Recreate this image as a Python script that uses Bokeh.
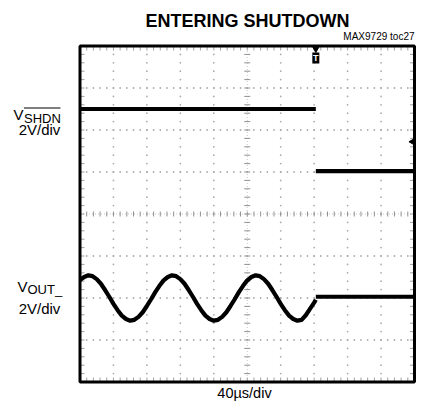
import numpy as np
from bokeh.plotting import figure
from bokeh.models import Range1d
from bokeh.core.properties import value
from bokeh.embed import file_html
from bokeh.resources import INLINE

# ---------------- data ----------------
US_PER_DIV = 40
V_PER_DIV = 2
N_XDIV = 10
N_YDIV = 8

# time of the shutdown edge (us)
t_shutdown_us = 282

# VOUT_ trace before shutdown (us, V)
t_vout_us = [0, 5, 10, 15, 20, 25, 30, 35, 40, 45, 50, 55, 60, 65, 70, 75, 80, 85, 90, 95,
             100, 105, 110, 115, 120, 125, 130, 135, 140, 145, 150, 155, 160, 165, 170, 175, 180, 185, 190, 195,
             200, 205, 210, 215, 220, 225, 230, 235, 240, 245, 250, 255, 260, 265, 270, 275, 280, 282]
vout_v = [0.86, 1.00, 1.08, 1.04, 0.90, 0.68, 0.38, 0.06, -0.28, -0.58, -0.84, -1.00, -1.08, -1.04, -0.90, -0.68, -0.38, -0.06, 0.28, 0.58,
          0.84, 1.00, 1.08, 1.04, 0.90, 0.68, 0.38, 0.06, -0.28, -0.58, -0.84, -1.00, -1.08, -1.04, -0.90, -0.68, -0.38, -0.06, 0.28, 0.58,
          0.84, 1.00, 1.08, 1.04, 0.90, 0.68, 0.38, 0.06, -0.28, -0.58, -0.84, -1.00, -1.08, -1.04, -0.82, -0.52, -0.22, -0.08]
# VOUT_ after shutdown
t_vout_off_us = [282, 400]
vout_off_v = [0.06, 0.06]

# SHDN trace (us, V)
t_shdn_high_us = [0, 282]
shdn_high_v = [3.0, 3.0]
t_shdn_low_us = [282, 400]
shdn_low_v = [0.04, 0.04]

# channel ground positions on screen (divisions from bottom)
shdn_offset_div = 5.0
vout_offset_div = 2.0
trig_level_div = 5.72

# ---------------- layout (page pixels) ----------------
W, H = 422, 413
FL, FR, FT, FB = 79.5, 414.0, 45.5, 381.5   # scope screen edges in page pixels
FW, FH = FR - FL, FB - FT
XMAX = US_PER_DIV * N_XDIV
TEXT_DY = -5.5


def px_x(page_x):
    return (page_x - FL) / FW * XMAX


def px_y(page_y):
    return (FB - page_y) / FH * N_YDIV


def to_div(v, off):
    return [off + vv / V_PER_DIV for vv in v]


p = figure(width=W, height=H,
           x_range=Range1d(px_x(0), px_x(W)), y_range=Range1d(px_y(H), px_y(0)),
           output_backend="svg", toolbar_location=None,
           x_axis_location=None, y_axis_location=None,
           min_border=0, min_border_left=0, min_border_right=0, min_border_top=0, min_border_bottom=0)
p.grid.visible = False
p.outline_line_color = None
p.background_fill_color = "white"
p.border_fill_color = "white"

grid_col = "#acacac"
# dotted graticule
xs, ys = [], []
minor_x = np.arange(0, XMAX + 0.1, US_PER_DIV / 5)
minor_y = np.arange(0, N_YDIV + 0.01, 0.2)
for k in range(1, N_XDIV):
    if k == N_XDIV // 2:
        continue
    xs += [k * US_PER_DIV] * len(minor_y)
    ys += list(minor_y)
for k in range(1, N_YDIV):
    if k == N_YDIV // 2:
        continue
    xs += list(minor_x)
    ys += [k] * len(minor_x)
p.scatter(xs, ys, size=1.8, color=grid_col, line_color=None)

# center cross with ticks
p.line([0, XMAX], [N_YDIV / 2] * 2, line_color="#c8c8c8", line_width=1, line_dash="1 2")
p.line([XMAX / 2] * 2, [0, N_YDIV], line_color="#c8c8c8", line_width=1, line_dash="1 2")
tx = minor_x
ty = minor_y
dy = 2.5 / FH * N_YDIV
dx = 3 / FW * XMAX
p.segment(x0=tx, y0=N_YDIV / 2 - dy, x1=tx, y1=N_YDIV / 2 + dy, line_color="#909090", line_width=1)
p.segment(x0=XMAX / 2 - dx, y0=ty, x1=XMAX / 2 + dx, y1=ty, line_color="#909090", line_width=1)

# border ticks
bl = 4.5
p.segment(x0=tx, y0=N_YDIV, x1=tx, y1=N_YDIV - bl / FH * N_YDIV, line_color="#a0a0a0")
p.segment(x0=tx, y0=0, x1=tx, y1=bl / FH * N_YDIV, line_color="#a0a0a0")
p.segment(x0=0, y0=ty, x1=bl / FW * XMAX, y1=ty, line_color="#a0a0a0")
p.segment(x0=XMAX, y0=ty, x1=XMAX - bl / FW * XMAX, y1=ty, line_color="#a0a0a0")

# scope screen border
p.quad(left=[0], right=[XMAX], bottom=[0], top=[N_YDIV], fill_color=None, line_color="black", line_width=3)

# traces
tw = 4.2
p.line(t_shdn_high_us, to_div(shdn_high_v, shdn_offset_div), line_color="black", line_width=tw)
p.line(t_shdn_low_us, to_div(shdn_low_v, shdn_offset_div), line_color="black", line_width=tw)
p.line(t_vout_us, to_div(vout_v, vout_offset_div), line_color="black", line_width=tw, line_join="round")
p.line(t_vout_off_us, to_div(vout_off_v, vout_offset_div), line_color="black", line_width=tw)

# trigger markers
p.scatter([t_shutdown_us], [N_YDIV - 3 / FH * N_YDIV], marker="inverted_triangle", size=6, color="black")
p.rect([t_shutdown_us], [px_y(57.5)], width=7, height=11, width_units="screen", height_units="screen",
       fill_color="black", line_color=None)
p.text([t_shutdown_us], [px_y(57.5)], text=["T"], text_color="white", text_font=value("Liberation Sans"),
       text_font_style="bold", text_font_size="9px", text_align="center", text_baseline="middle")
p.scatter([XMAX - 1.5 / FW * XMAX], [trig_level_div], marker="triangle", angle=np.pi / 2, size=7, color="black")

# texts
FONT = "Liberation Sans"


def add_text(page_x, page_y, text, size, align="left", bold=False):
    p.text([px_x(page_x)], [px_y(page_y + TEXT_DY)], text=[text], text_font=value(FONT), text_font_size=size,
           text_align=align, text_baseline="alphabetic",
           text_font_style="bold" if bold else "normal", text_color="black")


add_text(247, 26, "ENTERING SHUTDOWN", "18px", align="center", bold=True)
add_text(414, 41.5, "MAX9729 toc27", "10px", align="right")

add_text(13, 119, "V", "15px")
add_text(23.5, 123, "SHDN", "13px")
p.segment(x0=[px_x(23.5)], y0=[px_y(107.5)], x1=[px_x(60)], y1=[px_y(107.5)], line_color="black", line_width=1)
add_text(39, 134, "2V/div", "15px", align="center")

add_text(17, 291, "V", "15px")
add_text(27, 294, "OUT_", "13px")
add_text(39, 313, "2V/div", "15px", align="center")

add_text(244, 398, "40µs/div", "14.5px", align="center")

open("out.html", "w").write(file_html(p, INLINE))
